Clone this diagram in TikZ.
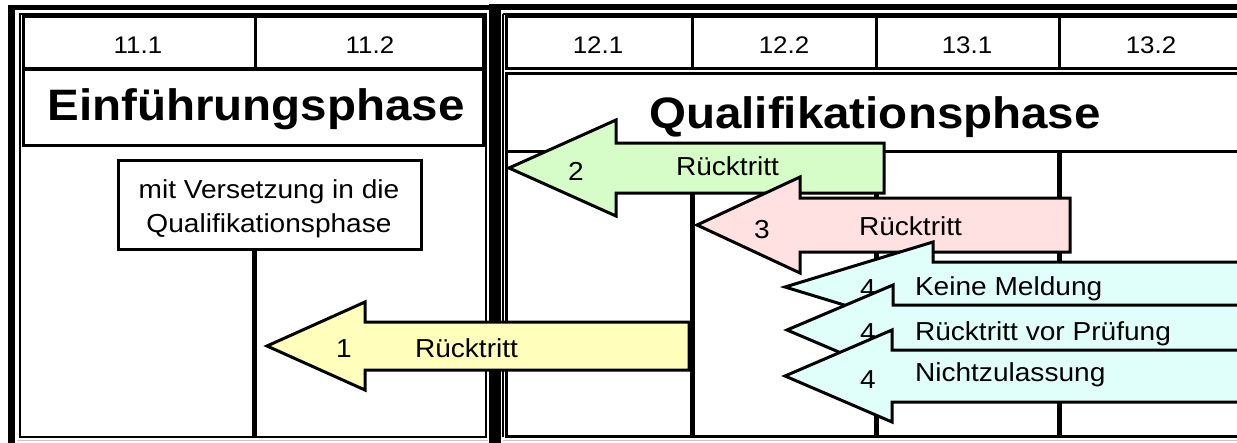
\documentclass[tikz,border=0pt]{standalone}
\usepackage{fontspec}
\setmainfont{Liberation Sans}
\newcommand{\sx}[1]{\scalebox{1.08}[1]{#1}}
\definecolor{ayellow}{RGB}{255,255,187}
\definecolor{agreen}{RGB}{214,253,199}
\definecolor{apink}{RGB}{255,225,225}
\definecolor{acyan}{RGB}{224,255,250}
\definecolor{lgray}{RGB}{200,200,200}
\tikzset{
  every node/.style={inner sep=0pt, outer sep=0pt},
  lab/.style={font=\fontsize{24}{28}\selectfont, anchor=base},
  txt/.style={font=\fontsize{26}{30}\selectfont, anchor=base},
  txtw/.style={font=\fontsize{26}{30}\selectfont, anchor=base west},
  big/.style={font=\bfseries\fontsize{44}{50}\selectfont, anchor=base},
  tbl/.style={line width=3pt},
  thin/.style={line width=2pt},
  gridline/.style={line width=5pt},
  arr/.style={draw=black, line width=3pt, line join=miter, miter limit=10},
}
% tipx, cy, headback, headhalf, shafthalf, rightend, colour
\newcommand{\larrow}[7]{%
  \filldraw[arr, fill=#7] (#1,#2) -- (#3,#2-#4) -- (#3,#2-#5) -- (#6,#2-#5)
    -- (#6,#2+#5) -- (#3,#2+#5) -- (#3,#2+#4) -- cycle;}
\begin{document}
\begin{tikzpicture}[x=1pt, y=-1pt]
\useasboundingbox (0,0) rectangle (1237,442);
\clip (0,0) rectangle (1237,442);
\fill[white] (0,0) rectangle (1237,442);

% ---------- left panel ----------
\fill[black] (8,5) rectangle (15,450);
\fill[black] (8,5) rectangle (490,10);
\draw[thin] (19.5,13.5) rectangle (486,437);
\draw[lgray, line width=1pt] (17,440) -- (488,440);
\draw[tbl] (23.5,16.5) rectangle (483.5,68.5);
\draw[tbl] (255,16.5) -- (255,68.5);
\draw[tbl] (23.5,69.5) rectangle (483.5,145);
\node[lab] (t111) at (138,53) {\sx{11.1}};
\node[lab] (t112) at (370,53) {\sx{11.2}};
\node[big] (eph) at (256,120) {\sx{Einführungsphase}};

% box with line
\draw[gridline] (254,250) -- (254,437);
\draw[line width=3.5pt, fill=white] (118.5,160.5) rectangle (421.5,249.5);
\node[txt] (mv1) at (269,198) {\sx{mit Versetzung in die}};
\node[txt] (mv2) at (269,232) {\sx{Qualifikationsphase}};

% ---------- right panel ----------
\fill[black] (489,4) rectangle (501,450);
\fill[black] (489,4) rectangle (1240,10);
\draw[thin] (503,13.5) -- (1245,13.5);
\draw[thin] (503,13.5) -- (503,437);
\draw[tbl] (506.5,16.5) rectangle (1250,68.5);
\foreach \xx in {692,876,1059} \draw[tbl] (\xx,16.5) -- (\xx,68.5);
\draw[tbl] (506.5,73.5) rectangle (1250,151);
\draw[tbl] (506.5,151) -- (506.5,436.5) -- (1250,436.5);
\draw[lgray, line width=1pt] (503,440) -- (1240,440);
\foreach \xx in {692,876,1059} \draw[gridline] (\xx,151) -- (\xx,436);
\node[lab] (t121) at (598,53) {\sx{12.1}};
\node[lab] (t122) at (784,53) {\sx{12.2}};
\node[lab] (t131) at (967,53) {\sx{13.1}};
\node[lab] (t132) at (1151,53) {\sx{13.2}};
\node[big] (qph) at (875,128) {\sx{Qualifikationsphase}};

% ---------- arrows ----------
\larrow{267}{346}{365}{44}{24}{689}{ayellow}
\node[txt] (n1) at (344,357) {\sx{1}};
\node[txtw] (r1) at (415,357) {\sx{Rücktritt}};

\larrow{509}{168}{616}{48}{25}{884}{agreen}
\node[txt] (n2) at (576,180) {\sx{2}};
\node[txtw] (r2) at (676,175) {\sx{Rücktritt}};

\larrow{697}{225}{800}{48}{27}{1070}{apink}
\node[txt] (n3) at (762,238) {\sx{3}};
\node[txtw] (r3) at (859,235) {\sx{Rücktritt}};

\larrow{785}{287}{933}{45}{25}{1270}{acyan}
\node[txt] (n4a) at (868,297) {\sx{4}};
\node[txtw] (r4a) at (915,295) {\sx{Keine Meldung}};

\larrow{787}{330}{893}{45}{25}{1270}{acyan}
\node[txt] (n4b) at (868,341) {\sx{4}};
\node[txtw] (r4b) at (915,340) {\sx{Rücktritt vor Prüfung}};

\larrow{785}{376}{892}{46}{26}{1270}{acyan}
\node[txt] (n4c) at (868,388) {\sx{4}};
\node[txtw] (r4c) at (915,381) {\sx{Nichtzulassung}};
\end{tikzpicture}
\end{document}
